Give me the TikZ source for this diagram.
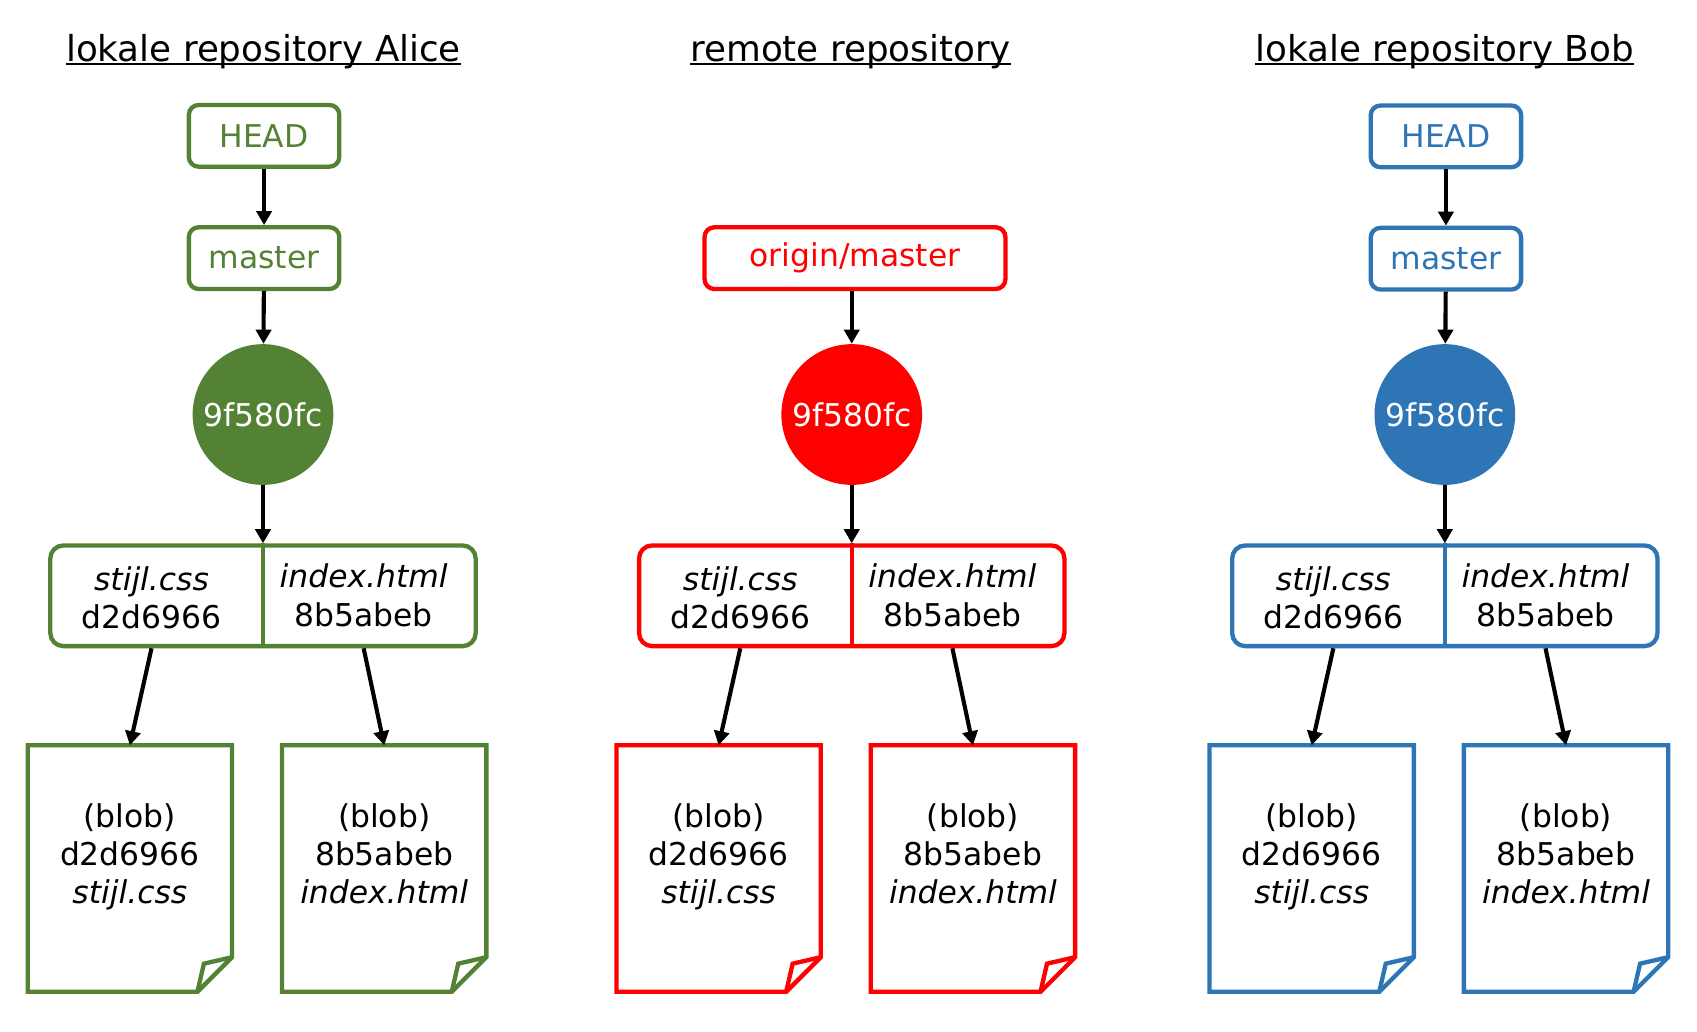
\documentclass[tikz,border=0pt]{standalone}
\usepackage{fontspec}
\setmainfont{DejaVu Sans}
\usetikzlibrary{positioning}
\usetikzlibrary{arrows.meta}

\definecolor{alicegreen}{HTML}{548235}
\definecolor{remotered}{HTML}{FF0000}
\definecolor{bobblue}{HTML}{2E75B6}

\tikzset{
  every node/.style={font=\fontsize{14.5}{17.7}\selectfont},
  repotitle/.style={font=\fontsize{16.5}{20}\selectfont, anchor=base, inner sep=0pt},
  ref/.style={draw, rounded corners=4.5pt, line width=2pt,
              minimum width=69.5pt, minimum height=28.5pt, inner sep=0pt},
  commit/.style={circle, minimum size=65pt, inner sep=0pt, text=white},
  treebox/.style={draw, rounded corners=6pt, line width=2pt,
                  minimum width=196.5pt, minimum height=46.5pt, inner sep=0pt},
  cell/.style={align=center, inner sep=0pt},
  blobtext/.style={align=center, inner sep=0pt, anchor=north},
  blobbox/.style={minimum width=94pt, minimum height=113.5pt, inner sep=0pt},
  docline/.style={line width=2pt, line join=miter},
  pointer/.style={-{Triangle[length=6.5pt,width=7pt]}, line width=1.9pt, black},
}

\begin{document}
\begin{tikzpicture}[x=0.5pt, y=-0.5pt]

  \useasboundingbox (0,0) rectangle (1568,953.5);

  % titles
  \node[repotitle] (atitle) at (243.5,57) {lokale repository Alice};
  \node[repotitle] (rtitle) at (786,57) {remote repository};
  \node[repotitle] (btitle) at (1335,57) {lokale repository Bob};
  \draw[line width=0.9pt] ([yshift=-1.2pt]atitle.base west) -- ([yshift=-1.2pt]atitle.base east);
  \draw[line width=0.9pt] ([yshift=-1.2pt]rtitle.base west) -- ([yshift=-1.2pt]rtitle.base east);
  \draw[line width=0.9pt] ([yshift=-1.2pt]btitle.base west) -- ([yshift=-1.2pt]btitle.base east);

  % references
  \node[ref, alicegreen] (ahead) at (244,125.5) {HEAD};
  \node[ref, alicegreen] (amaster) at (244,238.5) {master};
  \node[ref, remotered, minimum width=139pt] (rorigin) at (790,238.5) {origin/master};
  \node[ref, bobblue] (bhead) at (1336,126) {HEAD};
  \node[ref, bobblue] (bmaster) at (1336,239) {master};

  % commit, tree and blobs of each repository
  \foreach \p/\x/\c in {a/243/alicegreen, r/787/remotered, b/1335/bobblue} {
    \node[commit, fill=\c] (\p commit) at (\x,383) {9f580fc};

    \node[treebox, draw=\c] (\p tree) at (\x,550.5) {};
    \draw[\c, line width=2pt] (\p tree.north) -- (\p tree.south);
    \node[cell] (\p css) at (\x-103,552.5) {\textit{stijl.css}\\d2d6966};
    \node[cell] (\p html) at (\x+93,550) {\textit{index.html}\\8b5abeb};

    \node[blobbox] (\p blobcss) at (\x-123,802.5) {};
    \node[blobbox] (\p blobhtml) at (\x+112,802.5) {};
    \node[blobtext] (\p textcss) at (\p blobcss |- 0,742) {(blob)\\d2d6966\\\textit{stijl.css}};
    \node[blobtext] (\p texthtml) at (\p blobhtml |- 0,742) {(blob)\\8b5abeb\\\textit{index.html}};

    \draw[\c, docline] (\p blobcss.north west) -- (\p blobcss.north east)
      -- ([yshift=16pt]\p blobcss.south east) -- ([xshift=-16pt]\p blobcss.south east)
      -- (\p blobcss.south west) -- cycle;
    \draw[\c, docline] ([xshift=-16pt]\p blobcss.south east)
      -- ([xshift=-13pt,yshift=13pt]\p blobcss.south east) -- ([yshift=16pt]\p blobcss.south east);
    \draw[\c, docline] (\p blobhtml.north west) -- (\p blobhtml.north east)
      -- ([yshift=16pt]\p blobhtml.south east) -- ([xshift=-16pt]\p blobhtml.south east)
      -- (\p blobhtml.south west) -- cycle;
    \draw[\c, docline] ([xshift=-16pt]\p blobhtml.south east)
      -- ([xshift=-13pt,yshift=13pt]\p blobhtml.south east) -- ([yshift=16pt]\p blobhtml.south east);

    \draw[pointer] (\p commit) -- (\p tree);
    \draw[pointer] (\p css |- \p tree.south) -- (\p blobcss.north);
    \draw[pointer] (\p html |- \p tree.south) -- (\p blobhtml.north);
  }

  \draw[pointer] (ahead) -- (amaster);
  \draw[pointer] (amaster) -- (acommit);
  \draw[pointer] (rcommit |- rorigin.south) -- (rcommit);
  \draw[pointer] (bhead) -- (bmaster);
  \draw[pointer] (bmaster) -- (bcommit);

\end{tikzpicture}
\end{document}
